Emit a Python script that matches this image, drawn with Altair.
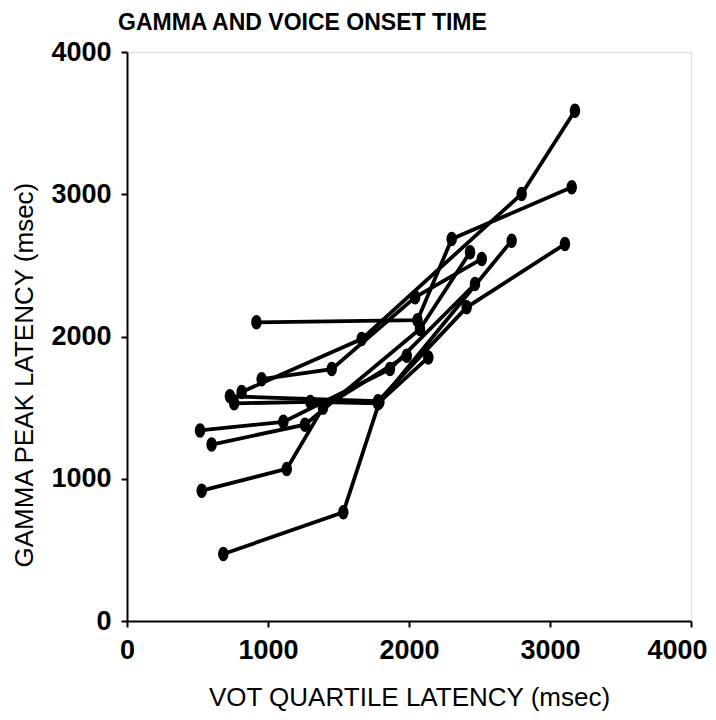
import altair as alt
import pandas as pd

# Each subject: VOT quartile latency (x) and gamma peak latency (y), in msec
subjects = ["S1", "S2", "S3", "S4", "S5", "S6", "S7", "S8", "S9"]
vot = [
    [918, 2060, 2303, 3154],
    [813, 1664, 2799, 3177],
    [730, 1780, 2409, 3106],
    [955, 1452, 2043, 2516],
    [683, 1534, 1790, 2728],
    [530, 1133, 1390, 1984],
    [518, 1109, 1865, 2468],
    [600, 1262, 2078, 2433],
    [760, 1300, 1780, 2137],
]
gamma = [
    [2100, 2115, 2685, 3049],
    [1610, 1982, 3002, 3587],
    [1580, 1545, 2205, 2650],
    [1700, 1771, 2276, 2545],
    [471, 764, 1540, 2673],
    [916, 1069, 1500, 1865],
    [1340, 1400, 1771, 2369],
    [1240, 1380, 2053, 2592],
    [1530, 1540, 1530, 1853],
]
axis_ticks = [0, 1000, 2000, 3000, 4000]

rows = []
for s, xs, ys in zip(subjects, vot, gamma):
    for i, (xv, yv) in enumerate(zip(xs, ys)):
        rows.append({"subject": s, "q": i, "vot": xv, "gamma": yv})
df = pd.DataFrame(rows)

FONT = "Liberation Sans"

x_enc = alt.X(
    "vot:Q",
    scale=alt.Scale(domain=[0, 4000], nice=False),
    axis=alt.Axis(
        values=axis_ticks, format="d",
        title="VOT QUARTILE LATENCY (msec)",
        titleFont=FONT, titleFontSize=26, titleFontWeight="normal",
        titleColor="black", titleBaseline="alphabetic", titleY=84,
        labelFont=FONT, labelFontSize=27, labelFontWeight="bold",
        labelColor="black", labelPadding=10, labelFlush=False,
        labelOffset={"expr": "datum.value == 4000 ? -14 : 0"},
        domainColor="black", domainWidth=2, tickColor="black",
        tickSize=6, tickWidth=2, grid=False,
    ),
)
y_enc = alt.Y(
    "gamma:Q",
    scale=alt.Scale(domain=[0, 4000], nice=False),
    axis=alt.Axis(
        values=axis_ticks, format="d",
        title="GAMMA PEAK LATENCY (msec)",
        titleFont=FONT, titleFontSize=26, titleFontWeight="normal",
        titleColor="black", titleBaseline="alphabetic", titleAngle=-90,
        titleX=-95, titleY=515, titleAlign="left",
        labelFont=FONT, labelFontSize=27, labelFontWeight="bold",
        labelColor="black", labelPadding=10, labelFlush=False,
        domainColor="black", domainWidth=2, tickColor="black",
        tickSize=6, tickWidth=2, grid=False,
    ),
)

ellipse = "M0,-1 A0.72,1 0 1,1 0,1 A0.72,1 0 1,1 0,-1 Z"

lines = alt.Chart(df).mark_line(color="black", strokeWidth=3.8).encode(
    x=x_enc, y=y_enc, detail="subject:N", order="q:Q"
)
points = alt.Chart(df).mark_point(
    shape=ellipse, filled=True, color="black", opacity=1, size=210
).encode(x="vot:Q", y="gamma:Q")

chart = (
    alt.layer(lines, points)
    .properties(
        width=564,
        height=569,
        autosize=alt.AutoSizeParams(type="none"),
        padding={"left": 119, "top": 44, "right": 17, "bottom": 91},
        title=alt.TitleParams(
            "GAMMA AND VOICE ONSET TIME",
            font=FONT, fontSize=23, fontWeight="bold", color="black",
            anchor="start", frame="group", dx=-9, offset=3,
        ),
    )
    .configure_view(stroke="black", strokeWidth=2)
    .configure(background="white")
)

chart.save("out.html", embed_options={"renderer": "svg", "actions": False})
